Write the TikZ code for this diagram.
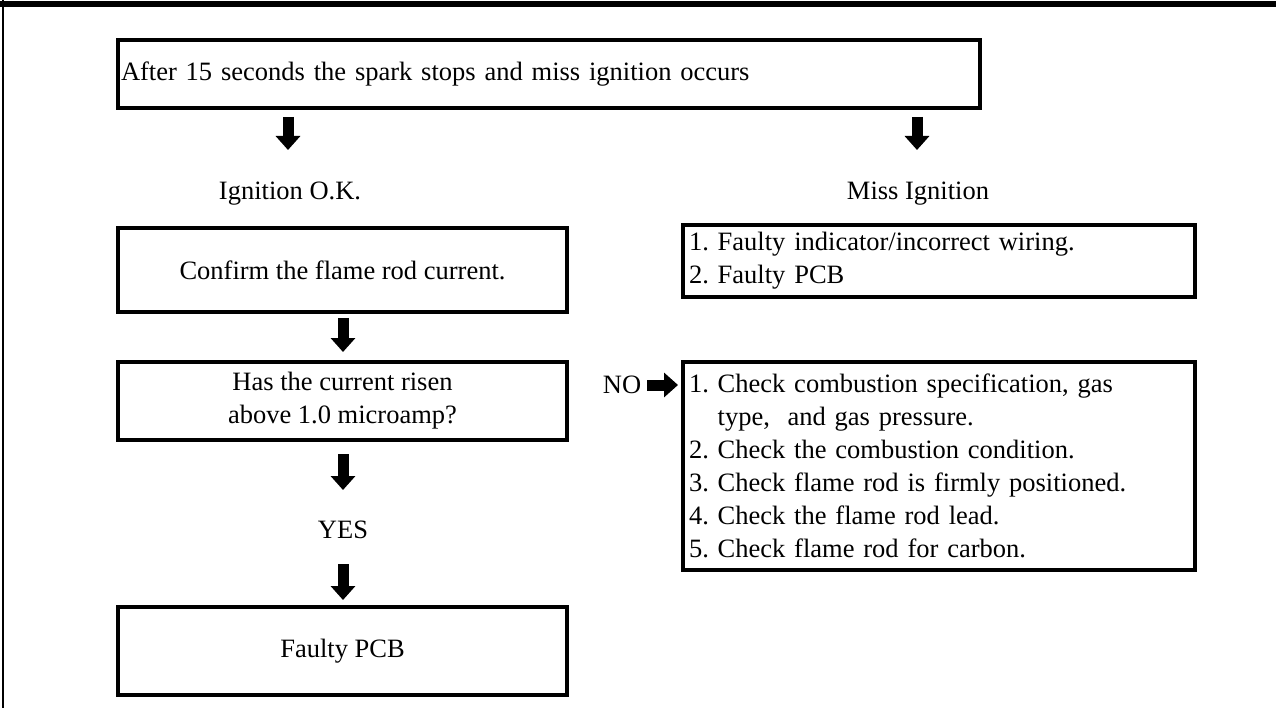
\documentclass[tikz,border=0pt]{standalone}
\usepackage{fontspec}
\setmainfont{Liberation Serif}
\usetikzlibrary{arrows.meta}
\tikzset{
  box/.style={draw, line width=4pt, inner sep=0pt, outer sep=0pt},
  txt/.style={font=\fontsize{26.5}{33}\selectfont\frenchspacing, inner sep=0pt},
  blockarrow/.style={line width=11pt, -{Triangle[width=24pt,length=14pt]}},
}
\begin{document}
\begin{tikzpicture}[x=1pt,y=-1pt]
\useasboundingbox (0,0) rectangle (1276,708);
\fill (0,1) rectangle (1276,7);
\draw[line width=2pt] (3,0) -- (3,708);

% boxes
\node[box, minimum width=862pt, minimum height=68pt, txt, text width=856pt, inner xsep=3pt, align=left] (top) at (549,74) {\raisebox{-6pt}{After 15 seconds the spark stops and miss ignition occurs}};
\node[box, minimum width=449pt, minimum height=84pt, txt, align=center] (confirm) at (342.5,270) {\raisebox{-2pt}{Confirm the flame rod current.}};
\node[box, minimum width=449pt, minimum height=78pt, txt, align=center] (has) at (342.5,401) {Has the current risen\\above 1.0 microamp?};
\node[box, minimum width=449pt, minimum height=88pt, txt, align=center] (pcb) at (342.5,651) {\raisebox{-2pt}{Faulty PCB}};
\node[box, minimum width=512pt, minimum height=72pt, txt, text width=500pt, inner xsep=6pt, align=left] (miss) at (939,261) {\raisebox{-4pt}{1. Faulty indicator/incorrect wiring.}\\\raisebox{-4pt}{2. Faulty PCB}};
\node[box, minimum width=512pt, minimum height=208pt, txt, text width=500pt, inner xsep=6pt, align=left] (checks) at (939,466) {1. Check combustion specification, gas\\\phantom{1. }type,\ \ and gas pressure.\\2. Check the combustion condition.\\3. Check flame rod is firmly positioned.\\4. Check the flame rod lead.\\5. Check flame rod for carbon.};

% labels
\node[txt] (ok) at (290,194) {Ignition O.K.};
\node[txt] (mi) at (918,194) {Miss Ignition};
\node[txt] (yes) at (343,530) {YES};
\node[txt] (no) at (622,385) {NO};

% arrow end points
\coordinate (a1s) at (288,117); \coordinate (a1e) at (288,150);
\coordinate (a2s) at (917,117); \coordinate (a2e) at (917,150);
\coordinate (a3s) at (343,318); \coordinate (a3e) at (343,352);
\coordinate (a4s) at (343,454); \coordinate (a4e) at (343,490);
\coordinate (a5s) at (343,564); \coordinate (a5e) at (343,600);
\coordinate (a6s) at (no.east) ; \coordinate (a6e) at (678,385);

\draw[blockarrow] (a1s) -- (a1e);
\draw[blockarrow] (a2s) -- (a2e);
\draw[blockarrow] (a3s) -- (a3e);
\draw[blockarrow] (a4s) -- (a4e);
\draw[blockarrow] (a5s) -- (a5e);
\draw[blockarrow] ([xshift=6pt]a6s) -- (a6e);
\end{tikzpicture}
\end{document}
